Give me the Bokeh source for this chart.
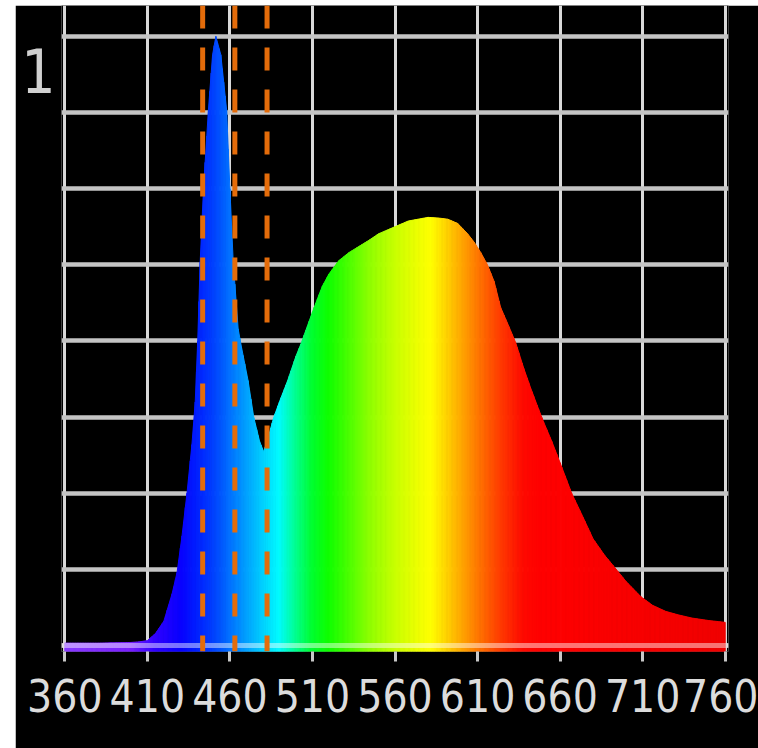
import numpy as np
from bokeh.plotting import figure
from bokeh.models import Range1d, FixedTicker, Span
from bokeh.embed import file_html
from bokeh.resources import INLINE

# ---------------- data ----------------
wavelengths = [360, 380, 400, 405, 410, 415, 420, 425, 428, 431, 434, 437, 439,
               440.5, 442, 444, 447, 449.5, 451.5, 454.5, 458, 460, 462, 465,
               467, 471, 474.5, 478, 480.5, 483, 486.5, 490, 495, 500, 503, 507,
               511, 516, 520, 526, 532, 538, 544, 550, 556, 562, 568, 574, 580,
               586, 592, 598, 604, 608, 612, 616, 620, 624, 628, 633, 638, 642,
               646, 650, 655, 660, 667, 674, 680, 687, 694, 700, 709, 716, 724,
               732, 740, 750, 760]
intensity = [0.004, 0.004, 0.005, 0.006, 0.008, 0.02, 0.04, 0.085, 0.12, 0.18,
             0.25, 0.33, 0.40, 0.50, 0.63, 0.75, 0.88, 0.97, 1.0, 0.97, 0.88,
             0.75, 0.63, 0.52, 0.49, 0.435, 0.374, 0.335, 0.318, 0.34, 0.374,
             0.40, 0.435, 0.475, 0.495, 0.525, 0.555, 0.59, 0.61, 0.632, 0.645,
             0.655, 0.665, 0.676, 0.683, 0.69, 0.697, 0.70, 0.703, 0.702, 0.70,
             0.693, 0.676, 0.662, 0.645, 0.625, 0.598, 0.555, 0.53, 0.498,
             0.455, 0.424, 0.395, 0.367, 0.335, 0.30, 0.25, 0.21, 0.175, 0.148,
             0.125, 0.105, 0.08, 0.066, 0.056, 0.05, 0.045, 0.041, 0.038]
tick_values = [360, 410, 460, 510, 560, 610, 660, 710, 760]
tick_labels = ["360", "410", "460", "510", "560", "610", "660", "710", "760"]
grid_levels = [0, 0.125, 0.25, 0.375, 0.5, 0.625, 0.75, 0.875, 1.0]
marker_wavelengths = [443.5, 463.0, 482.5]
y_label = "1"

# ---------------- style ----------------
FONT = "DejaVu Sans Condensed"
Y_LABEL_AT = 0.944   # where the "1" sits (just under the top grid line)
COLOR_STOPS = [(360, "#8a3cff"), (400, "#7a20ff"), (415, "#3000ff"),
               (430, "#0a00ff"), (440, "#0020ff"), (450, "#0040ff"),
               (460, "#0070ff"), (470, "#00a0ff"), (480, "#00d0ff"),
               (490, "#00fcff"), (500, "#00ff90"), (510, "#00ff30"),
               (520, "#10ff00"), (530, "#40ff00"), (545, "#90ff00"),
               (560, "#c8ff00"), (575, "#f0ff00"), (582, "#ffff00"),
               (592, "#ffd000"), (602, "#ffa000"), (612, "#ff7000"),
               (625, "#ff3800"), (638, "#ff0a00"), (650, "#ff0000"),
               (760, "#f00000")]
stop_w = np.array([s[0] for s in COLOR_STOPS], dtype=float)
stop_rgb = np.array([[int(s[1][i:i + 2], 16) for i in (1, 3, 5)] for s in COLOR_STOPS], dtype=float)


def spectral_color(w):
    r, g, b = (int(round(np.interp(w, stop_w, stop_rgb[:, c]))) for c in range(3))
    return "#%02x%02x%02x" % (r, g, b)


Y0, Y1 = -0.00985, 1.0509
p = figure(width=743, height=743, output_backend="svg", toolbar_location=None,
           x_range=Range1d(358, 762), y_range=Range1d(Y0, Y1),
           background_fill_color="black", border_fill_color="black",
           min_border_left=46, min_border_right=30, min_border_top=0,
           min_border_bottom=97, margin=(5, 0, 0, 15))
p.outline_line_color = None

# grid
p.xgrid.ticker = FixedTicker(ticks=tick_values)
p.xgrid.grid_line_color = "#d9d9d9"
p.xgrid.grid_line_width = 3
p.ygrid.ticker = FixedTicker(ticks=grid_levels)
p.ygrid.grid_line_color = "#c4c4c4"
p.ygrid.grid_line_width = 4.5

# spectrum: piecewise-linear outline through the data, split into thin strips
xs, ys, cols = [], [], []
for i in range(len(wavelengths) - 1):
    x0, x1 = wavelengths[i], wavelengths[i + 1]
    v0, v1 = intensity[i], intensity[i + 1]
    n = max(1, int(np.ceil((x1 - x0) / 1.0)))
    for k in range(n):
        a, b = x0 + (x1 - x0) * k / n, x0 + (x1 - x0) * (k + 1) / n
        va, vb = v0 + (v1 - v0) * k / n, v0 + (v1 - v0) * (k + 1) / n
        xs.append([a, a, b, b])
        ys.append([Y0, va, vb, Y0])
        cols.append(spectral_color((a + b) / 2))
p.patches(xs, ys, fill_color=cols, line_color=cols, line_width=1)

# baseline strip
p.add_layout(Span(location=0, dimension="width", line_color="white",
                  line_alpha=0.45, line_width=5))

# dashed markers
for w in marker_wavelengths:
    p.add_layout(Span(location=w, dimension="height", line_color="#e46c0a",
                      line_width=5, line_dash="23 19"))

# x axis
ax = p.xaxis[0]
ax.ticker = FixedTicker(ticks=tick_values)
ax.major_label_overrides = {v: t for v, t in zip(tick_values, tick_labels)}
ax.axis_line_color = None
ax.major_tick_out = 10
ax.major_tick_in = 0
ax.major_tick_line_color = "#c8c8c8"
ax.major_tick_line_width = 3
ax.minor_tick_line_color = None
ax.major_label_text_font = FONT
ax.major_label_text_font_size = "44px"
ax.major_label_text_color = "#dcdcdc"
ax.major_label_standoff = 17

# y axis: only the "1" label
ay = p.yaxis[0]
ay.ticker = FixedTicker(ticks=[Y_LABEL_AT])
ay.major_label_overrides = {Y_LABEL_AT: y_label}
ay.axis_line_color = None
ay.major_tick_line_color = None
ay.minor_tick_line_color = None
ay.major_tick_out = 0
ay.major_tick_in = 0
ay.major_label_standoff = 6
ay.major_label_text_font = FONT
ay.major_label_text_font_size = "60px"
ay.major_label_text_color = "#d0d0d0"

open("out.html", "w").write(file_html(p, INLINE))
